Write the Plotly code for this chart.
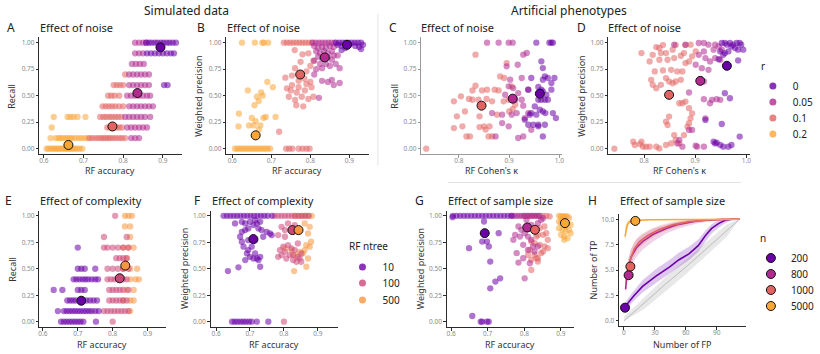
import plotly.graph_objects as go

W, H = 820, 354
FONT = "Noto Sans"

# ---------------------------------------------------------------- palette
R_LEVELS = ["0", "0.05", "0.1", "0.2"]
R_COLORS = {"0": "#6A00A8", "0.05": "#B12A90", "0.1": "#E16462", "0.2": "#FCA636"}
NTREE_LEVELS = ["10", "100", "500"]
NTREE_COLORS = {"10": "#6A00A8", "100": "#CC4778", "500": "#F89540"}
N_LEVELS = ["200", "800", "1000", "5000"]
N_COLORS = {"200": "#6A00A8", "800": "#B12A90", "1000": "#E16462", "5000": "#FCA636"}

# ---------------------------------------------------------------- A: recall vs RF accuracy (noise r)
# rows of (recall, [RF accuracy, ...])
A_R02 = [
    (0.0, [0.607, 0.612, 0.618, 0.623, 0.628, 0.633, 0.638, 0.643, 0.648, 0.653, 0.658,
           0.663, 0.668, 0.673, 0.678, 0.684, 0.690, 0.697]),
    (0.1, [0.617, 0.630, 0.637, 0.642, 0.648, 0.655, 0.660, 0.667, 0.672, 0.680, 0.688,
           0.695, 0.703, 0.710]),
    (0.2, [0.620]),
    (0.3, [0.625, 0.660, 0.667, 0.675, 0.685, 0.705]),
]
A_R01 = [
    (0.1, [0.715, 0.722, 0.730, 0.737, 0.744, 0.750, 0.756, 0.762, 0.768, 0.775, 0.782,
           0.790, 0.797, 0.805]),
    (0.2, [0.760, 0.767, 0.775, 0.783, 0.790, 0.797]),
    (0.3, [0.742, 0.750, 0.757, 0.765, 0.772, 0.780, 0.787, 0.795]),
    (0.4, [0.748, 0.756, 0.764, 0.772, 0.780, 0.790, 0.800]),
    (0.5, [0.762, 0.770, 0.778, 0.790]),
    (0.6, [0.776, 0.784, 0.792, 0.800]),
    (0.7, [0.805]),
]
A_R005 = [
    (0.1, [0.820, 0.830, 0.840]),
    (0.2, [0.810, 0.820, 0.830, 0.840, 0.850, 0.860]),
    (0.3, [0.805, 0.815, 0.825, 0.835, 0.845, 0.855, 0.868]),
    (0.4, [0.815, 0.825, 0.835, 0.845, 0.855, 0.865, 0.875]),
    (0.5, [0.810, 0.820, 0.830, 0.840, 0.850, 0.860, 0.868]),
    (0.6, [0.815, 0.825, 0.835, 0.845, 0.855, 0.865]),
    (0.7, [0.815, 0.825, 0.835, 0.845, 0.855, 0.865]),
    (0.8, [0.822, 0.832, 0.842, 0.852]),
    (0.9, [0.830, 0.840, 0.850]),
    (1.0, [0.830, 0.840, 0.850, 0.858]),
]
A_R0 = [
    (0.6, [0.903, 0.912]),
    (0.9, [0.860, 0.870, 0.880, 0.890, 0.900, 0.910, 0.920, 0.928]),
    (1.0, [0.858, 0.865, 0.872, 0.880, 0.887, 0.895, 0.902, 0.910, 0.917, 0.925, 0.933]),
]
A_MEANS = {"0": (0.894, 0.956), "0.05": (0.836, 0.525), "0.1": (0.773, 0.21), "0.2": (0.662, 0.035)}

# ---------------------------------------------------------------- B: weighted precision vs RF accuracy
B_R02_ROWS = [
    (0.0, [0.607, 0.613, 0.619, 0.625, 0.631, 0.637, 0.643, 0.649, 0.655, 0.661, 0.667,
           0.673, 0.679, 0.685, 0.691, 0.697]),
    (1.0, [0.625, 0.658, 0.677, 0.681, 0.692]),
]
B_R02_PTS = [(0.617, 0.33), (0.616, 0.21), (0.640, 0.55), (0.643, 0.22), (0.650, 0.29),
             (0.655, 0.22), (0.657, 0.41), (0.663, 0.49), (0.668, 0.45), (0.674, 0.53),
             (0.678, 0.50), (0.680, 0.29), (0.672, 0.22), (0.686, 0.30), (0.690, 0.63),
             (0.704, 0.58), (0.711, 0.30), (0.660, 0.26), (0.668, 0.18)]
B_R01_ROWS = [
    (1.0, [0.732, 0.740, 0.748, 0.756, 0.764, 0.772, 0.780, 0.788, 0.796, 0.804]),
    (0.0, [0.738, 0.746, 0.754, 0.770, 0.780, 0.790, 0.798]),
]
B_R01_PTS = [(0.760, 0.93), (0.780, 0.89), (0.795, 0.90), (0.808, 0.83), (0.761, 0.76),
             (0.736, 0.67), (0.753, 0.69), (0.790, 0.73), (0.740, 0.57), (0.753, 0.60),
             (0.770, 0.58), (0.786, 0.55), (0.803, 0.58), (0.745, 0.49), (0.761, 0.46),
             (0.778, 0.49), (0.795, 0.47), (0.808, 0.49), (0.764, 0.41), (0.782, 0.40),
             (0.720, 0.16), (0.770, 0.64), (0.785, 0.66), (0.800, 0.63), (0.765, 0.53),
             (0.750, 0.55), (0.790, 0.61), (0.775, 0.82), (0.800, 0.78)]
B_R005_ROWS = [(1.0, [0.806, 0.814, 0.822, 0.830, 0.838, 0.846, 0.854, 0.862])]
B_R005_PTS = [(0.810, 0.97), (0.820, 0.95), (0.830, 0.96), (0.840, 0.95), (0.850, 0.97),
              (0.860, 0.96), (0.815, 0.92), (0.825, 0.90), (0.835, 0.92), (0.845, 0.90),
              (0.855, 0.92), (0.820, 0.87), (0.830, 0.85), (0.845, 0.86), (0.855, 0.84),
              (0.810, 0.83), (0.825, 0.80), (0.840, 0.80), (0.850, 0.78), (0.865, 0.80),
              (0.830, 0.76), (0.875, 0.76), (0.815, 0.75), (0.830, 0.64), (0.845, 0.63),
              (0.860, 0.60), (0.855, 0.65), (0.875, 0.62), (0.822, 0.48), (0.810, 0.70),
              (0.870, 0.88), (0.860, 0.88)]
B_R0_ROWS = [(1.0, [0.866, 0.874, 0.882, 0.890, 0.898, 0.906, 0.914, 0.922, 0.930])]
B_R0_PTS = [(0.870, 0.98), (0.880, 0.97), (0.900, 0.98), (0.915, 0.97), (0.925, 0.96),
            (0.935, 0.98), (0.890, 0.95), (0.880, 0.93), (0.930, 0.94)]
B_MEANS = {"0": (0.894, 0.98), "0.05": (0.837, 0.861), "0.1": (0.774, 0.70), "0.2": (0.660, 0.126)}

# ---------------------------------------------------------------- C: recall vs Cohen's kappa (artificial phenotypes)
C_R01 = [(0.735, 0.0), (0.790, 0.447), (0.790, 0.195), (0.796, 0.305), (0.807, 0.211),
         (0.804, 0.494), (0.812, 0.352), (0.815, 0.116), (0.822, 0.116), (0.827, 0.462),
         (0.827, 0.550), (0.833, 0.594), (0.833, 0.887), (0.839, 0.462), (0.841, 0.305),
         (0.841, 0.204), (0.846, 0.550), (0.850, 0.211), (0.855, 0.469), (0.856, 0.557),
         (0.861, 0.211), (0.866, 0.447), (0.866, 0.116), (0.876, 0.321), (0.879, 0.550),
         (0.882, 0.682), (0.889, 0.447), (0.890, 0.667), (0.895, 0.808), (0.899, 0.462),
         (0.900, 0.352), (0.905, 0.588), (0.907, 0.374), (0.912, 0.415), (0.859, 0.116),
         (0.853, 0.180), (0.820, 0.470), (0.871, 0.557)]
C_R005 = [(0.856, 1.0), (0.879, 1.0), (0.899, 1.0), (0.907, 1.0), (0.935, 0.903),
          (0.928, 0.887), (0.917, 0.792), (0.895, 0.777), (0.902, 0.651), (0.899, 0.588),
          (0.908, 0.572), (0.918, 0.525), (0.892, 0.509), (0.925, 0.462), (0.928, 0.406),
          (0.915, 0.336), (0.905, 0.321), (0.886, 0.321), (0.899, 0.211), (0.873, 0.116),
          (0.918, 0.101), (0.928, 0.116), (0.931, 0.289), (0.938, 0.336), (0.886, 0.242),
          (0.944, 0.179), (0.866, 0.336), (0.925, 0.667), (0.938, 0.557), (0.912, 0.462)]
C_R0 = [(0.954, 1.0), (0.980, 1.0), (0.984, 1.0), (0.987, 1.0), (0.964, 0.824),
        (0.967, 0.761), (0.971, 0.682), (0.967, 0.651), (0.977, 0.667), (0.984, 0.619),
        (0.990, 0.667), (0.944, 0.667), (0.958, 0.582), (0.964, 0.557), (0.967, 0.541),
        (0.974, 0.509), (0.977, 0.462), (0.964, 0.462), (0.971, 0.462), (0.958, 0.462),
        (0.951, 0.399), (0.961, 0.368), (0.967, 0.352), (0.972, 0.336), (0.944, 0.336),
        (0.954, 0.321), (0.941, 0.321), (0.931, 0.274), (0.938, 0.226), (0.948, 0.226),
        (0.958, 0.226), (0.971, 0.226), (0.993, 0.289), (0.958, 0.211), (0.987, 0.336),
        (0.984, 0.557), (0.938, 0.557), (0.967, 0.116)]
C_MEANS = {"0": (0.961, 0.519), "0.05": (0.907, 0.472), "0.1": (0.845, 0.406)}

# ---------------------------------------------------------------- D: weighted precision vs Cohen's kappa
D_R01 = [(0.742, 0.0), (0.779, 0.066), (0.782, 0.035), (0.792, 0.044), (0.798, 0.019),
         (0.804, 0.019), (0.795, 0.066), (0.811, 0.019), (0.824, 0.019), (0.830, 0.003),
         (0.843, 0.035), (0.853, 0.050), (0.862, 0.082), (0.869, 0.050), (0.859, 0.129),
         (0.878, 0.129), (0.885, 0.208), (0.888, 0.240), (0.891, 0.287), (0.894, 0.334),
         (0.888, 0.382), (0.875, 0.429), (0.881, 0.445), (0.869, 0.429), (0.849, 0.303),
         (0.846, 0.224), (0.843, 0.256), (0.817, 0.603), (0.814, 0.650), (0.824, 0.571),
         (0.833, 0.603), (0.849, 0.634), (0.843, 0.666), (0.856, 0.618), (0.862, 0.634),
         (0.872, 0.650), (0.875, 0.729), (0.865, 0.729), (0.853, 0.744), (0.837, 0.738),
         (0.821, 0.729), (0.830, 0.839), (0.846, 0.839), (0.859, 0.855), (0.872, 0.877),
         (0.878, 0.902), (0.881, 0.808), (0.888, 0.823), (0.894, 0.871), (0.901, 0.918),
         (0.891, 0.981), (0.856, 0.934), (0.843, 0.902), (0.830, 0.950), (0.833, 0.902),
         (0.817, 0.886), (0.811, 0.823), (0.795, 0.902), (0.824, 0.959), (0.837, 0.978),
         (0.862, 0.978), (0.881, 0.978)]
D_R005 = [(0.859, 0.981), (0.881, 0.981), (0.907, 0.997), (0.917, 0.997), (0.926, 0.981),
          (0.939, 0.981), (0.946, 0.965), (0.952, 0.934), (0.936, 0.934), (0.917, 0.918),
          (0.907, 0.886), (0.920, 0.855), (0.929, 0.823), (0.939, 0.855), (0.949, 0.839),
          (0.901, 0.792), (0.913, 0.760), (0.926, 0.744), (0.917, 0.634), (0.888, 0.530),
          (0.917, 0.467), (0.929, 0.429), (0.933, 0.461), (0.942, 0.467), (0.949, 0.461),
          (0.888, 0.177), (0.894, 0.177), (0.904, 0.019), (0.917, 0.019), (0.901, 0.028),
          (0.865, 0.050), (0.869, 0.082), (0.875, 0.019), (0.920, 0.287)]
D_R0 = [(0.952, 0.997), (0.958, 0.997), (0.962, 0.981), (0.968, 0.997), (0.974, 0.981),
        (0.981, 0.997), (0.987, 0.997), (0.990, 0.981), (0.971, 0.965), (0.978, 0.950),
        (0.984, 0.934), (0.994, 0.934), (0.949, 0.918), (0.958, 0.902), (0.965, 0.918),
        (0.955, 0.886), (0.946, 0.845), (0.984, 0.833), (0.958, 0.524), (0.968, 0.476),
        (0.920, 0.271), (0.952, 0.233), (0.987, 0.114), (0.939, 0.050), (0.949, 0.035),
        (0.955, 0.019), (0.965, 0.019), (0.971, 0.035), (0.942, 0.057), (0.936, 0.066)]
D_MEANS = {"0": (0.962, 0.782), "0.05": (0.910, 0.640), "0.1": (0.849, 0.508)}

# ---------------------------------------------------------------- E: recall vs RF accuracy (RF ntree)
E_T10 = [
    (0.0, [0.652, 0.660, 0.668, 0.676, 0.684, 0.692, 0.700, 0.708, 0.716, 0.752]),
    (0.1, [0.643, 0.660, 0.668, 0.676, 0.684, 0.692, 0.700, 0.708, 0.716, 0.724, 0.732,
           0.740, 0.750, 0.760]),
    (0.2, [0.670, 0.678, 0.686, 0.694, 0.715, 0.725, 0.735, 0.745, 0.755]),
    (0.3, [0.631, 0.656, 0.700, 0.710, 0.720]),
    (0.4, [0.688, 0.696, 0.705, 0.714, 0.722, 0.730, 0.740, 0.750, 0.758]),
    (0.5, [0.700, 0.710, 0.720, 0.750]),
    (0.7, [0.700]),
]
E_T100 = [
    (0.0, [0.800]),
    (0.1, [0.775, 0.785, 0.795, 0.805, 0.815, 0.825, 0.835, 0.845]),
    (0.2, [0.790, 0.800, 0.810, 0.820, 0.830, 0.840]),
    (0.3, [0.790, 0.800, 0.810, 0.820, 0.830, 0.845]),
    (0.4, [0.785, 0.795, 0.805, 0.815, 0.830, 0.840]),
    (0.5, [0.785, 0.800, 0.815, 0.830, 0.845]),
    (0.6, [0.810, 0.820, 0.830, 0.840]),
    (0.7, [0.775, 0.785, 0.800, 0.815, 0.830, 0.845]),
    (0.8, [0.775, 0.840]),
    (1.0, [0.807]),
]
E_T500 = [
    (0.1, [0.850]),
    (0.2, [0.830, 0.850, 0.860]),
    (0.3, [0.840, 0.860]),
    (0.4, [0.850, 0.865, 0.875]),
    (0.5, [0.830, 0.850, 0.870]),
    (0.6, [0.840]),
    (0.7, [0.830, 0.845, 0.860]),
    (0.8, [0.850]),
    (0.9, [0.835, 0.850]),
    (1.0, [0.835, 0.845, 0.855]),
]
E_MEANS = {"10": (0.710, 0.198), "100": (0.820, 0.41), "500": (0.836, 0.53)}

# ---------------------------------------------------------------- F: weighted precision vs RF accuracy (RF ntree)
F_T10_ROWS = [
    (1.0, [0.622, 0.632, 0.642, 0.652, 0.662, 0.672, 0.682, 0.692, 0.702, 0.712, 0.722,
           0.732, 0.742, 0.752, 0.765]),
    (0.0, [0.647, 0.655, 0.663, 0.672, 0.680, 0.688, 0.697, 0.705, 0.720, 0.754]),
]
F_T10_PTS = [(0.635, 0.478), (0.666, 0.513), (0.686, 0.582), (0.691, 0.645), (0.695, 0.676),
             (0.700, 0.613), (0.710, 0.597), (0.720, 0.597), (0.725, 0.582), (0.715, 0.645),
             (0.730, 0.613), (0.705, 0.708), (0.681, 0.708), (0.676, 0.755), (0.671, 0.802),
             (0.676, 0.849), (0.686, 0.865), (0.695, 0.881), (0.710, 0.912), (0.725, 0.881),
             (0.720, 0.928), (0.734, 0.865), (0.739, 0.802), (0.749, 0.849), (0.759, 0.833),
             (0.764, 0.818), (0.730, 0.519), (0.695, 0.770), (0.715, 0.770), (0.686, 0.928),
             (0.700, 0.943), (0.715, 0.959), (0.730, 0.943), (0.656, 0.928), (0.676, 0.943)]
F_T100_ROWS = [
    (1.0, [0.773, 0.783, 0.793, 0.803, 0.813, 0.823, 0.833, 0.843, 0.853, 0.863, 0.873]),
    (0.0, [0.800]),
]
F_T100_PTS = [(0.783, 0.818), (0.793, 0.896), (0.803, 0.865), (0.812, 0.928), (0.822, 0.865),
              (0.832, 0.912), (0.788, 0.676), (0.793, 0.629), (0.803, 0.660), (0.807, 0.597),
              (0.817, 0.629), (0.827, 0.629), (0.832, 0.676), (0.841, 0.613), (0.846, 0.597),
              (0.851, 0.645), (0.822, 0.692), (0.827, 0.582), (0.837, 0.566), (0.851, 0.566),
              (0.783, 0.613), (0.798, 0.708), (0.812, 0.723), (0.841, 0.739), (0.803, 0.802)]
F_T500_ROWS = [(1.0, [0.832, 0.842, 0.852, 0.862, 0.872, 0.882])]
F_T500_PTS = [(0.803, 0.692), (0.822, 0.676), (0.832, 0.629), (0.861, 0.676), (0.866, 0.723),
              (0.876, 0.708), (0.880, 0.755), (0.871, 0.833), (0.876, 0.896), (0.861, 0.928),
              (0.830, 0.478), (0.856, 0.645), (0.846, 0.660), (0.871, 0.597), (0.866, 0.519)]
F_MEANS = {"10": (0.710, 0.780), "100": (0.825, 0.865), "500": (0.843, 0.865)}

# ---------------------------------------------------------------- G: weighted precision vs RF accuracy (sample size n)
G_N200_ROWS = [(1.0, [0.605, 0.615, 0.625, 0.635, 0.645, 0.655, 0.665, 0.675, 0.685, 0.695,
                      0.705, 0.715, 0.725, 0.735, 0.745, 0.755, 0.765])]
G_N200_PTS = [(0.604, 0.987), (0.690, 0.946), (0.730, 0.836), (0.685, 0.757), (0.698, 0.757),
              (0.703, 0.710), (0.649, 0.694), (0.707, 0.568), (0.734, 0.410), (0.721, 0.379),
              (0.707, 0.315), (0.658, 0.054), (0.681, 0.0), (0.685, 0.0), (0.698, 0.0),
              (0.703, 0.0)]
G_N800_ROWS = [(1.0, [0.765, 0.772, 0.779, 0.786, 0.793, 0.800, 0.807, 0.814, 0.821, 0.828,
                      0.835, 0.842])]
G_N800_PTS = [(0.784, 0.899), (0.792, 0.868), (0.801, 0.836), (0.810, 0.804), (0.819, 0.773),
              (0.828, 0.868), (0.837, 0.931), (0.846, 0.962), (0.797, 0.726), (0.810, 0.678),
              (0.824, 0.710), (0.837, 0.710), (0.770, 0.773), (0.779, 0.647), (0.797, 0.599),
              (0.815, 0.552), (0.801, 0.410), (0.784, 0.558), (0.828, 0.662), (0.851, 0.978),
              (0.806, 0.962), (0.819, 0.915), (0.788, 0.804), (0.775, 0.820)]
G_N1000_ROWS = [(1.0, [0.800, 0.810, 0.820, 0.830, 0.840, 0.850, 0.860])]
G_N1000_PTS = [(0.815, 0.678), (0.828, 0.631), (0.837, 0.599), (0.846, 0.647), (0.855, 0.710),
               (0.864, 0.773), (0.851, 0.820), (0.837, 0.820), (0.819, 0.757), (0.828, 0.741),
               (0.842, 0.726), (0.860, 0.836), (0.855, 0.899), (0.842, 0.883), (0.833, 0.804),
               (0.810, 0.631), (0.819, 0.584), (0.837, 0.568), (0.819, 0.489), (0.833, 0.599),
               (0.851, 0.662), (0.864, 0.694), (0.869, 0.994)]
G_N5000_PTS = [(0.895, 1.0), (0.900, 0.994), (0.904, 0.994), (0.909, 0.994), (0.913, 0.994),
               (0.918, 0.994), (0.922, 0.978), (0.895, 0.946), (0.900, 0.931), (0.909, 0.915),
               (0.918, 0.931), (0.927, 0.915), (0.895, 0.883), (0.904, 0.868), (0.913, 0.852),
               (0.922, 0.868), (0.927, 0.836), (0.900, 0.820), (0.909, 0.804), (0.918, 0.789),
               (0.909, 0.773), (0.913, 0.899), (0.904, 0.962)]
G_MEANS = {"200": (0.692, 0.836), "800": (0.808, 0.890), "1000": (0.829, 0.868), "5000": (0.911, 0.931)}

# ---------------------------------------------------------------- H: TP vs FP curves (mean with band)
H_N200_FP = [1, 9, 18, 31, 44, 53, 63, 72, 79, 85, 92, 98, 104, 112]
H_N200_TP = [1.4, 2.4, 3.4, 4.4, 5.3, 6.0, 6.6, 7.4, 8.4, 9.1, 9.6, 9.9, 10.0, 10.0]
H_N200_LO = [1.0, 1.9, 2.8, 3.7, 4.6, 5.3, 6.0, 6.8, 7.8, 8.6, 9.2, 9.6, 9.9, 10.0]
H_N200_HI = [1.8, 2.9, 4.0, 5.1, 6.0, 6.7, 7.3, 8.0, 8.9, 9.5, 9.9, 10.0, 10.0, 10.0]

H_N800_FP = [1.6, 2.5, 4, 7, 12, 18, 28, 41, 53, 72, 95, 112]
H_N800_TP = [3.1, 4.3, 5.2, 6.3, 7.2, 7.8, 8.5, 9.1, 9.5, 9.85, 10.0, 10.0]
H_N800_LO = [2.5, 3.5, 4.3, 5.4, 6.3, 7.0, 7.8, 8.6, 9.1, 9.6, 9.95, 10.0]
H_N800_HI = [3.8, 5.0, 6.0, 7.1, 8.0, 8.5, 9.1, 9.5, 9.8, 10.0, 10.0, 10.0]

H_N1000_FP = [2.5, 4, 6, 10, 15, 23, 34, 47, 63, 82, 112]
H_N1000_TP = [4.0, 5.2, 6.0, 7.1, 7.8, 8.4, 9.0, 9.45, 9.77, 9.93, 10.0]
H_N1000_LO = [3.3, 4.4, 5.2, 6.4, 7.2, 7.9, 8.6, 9.1, 9.55, 9.85, 10.0]
H_N1000_HI = [4.8, 6.0, 6.8, 7.8, 8.4, 8.9, 9.4, 9.75, 9.95, 10.0, 10.0]

H_N5000_FP = [1, 2, 3.2, 5, 9, 25, 60, 112]
H_N5000_TP = [8.3, 9.0, 9.45, 9.75, 9.88, 9.95, 9.98, 10.0]
H_N5000_LO = [7.6, 8.5, 9.1, 9.5, 9.75, 9.9, 9.95, 10.0]
H_N5000_HI = [9.2, 9.6, 9.8, 9.95, 10.0, 10.0, 10.0, 10.0]

H_RAND_FP = [0, 20, 40, 60, 80, 100, 112]
H_RAND_TP = [0.0, 1.8, 3.6, 5.3, 7.1, 8.9, 10.0]
H_RAND_LO = [0.0, 1.2, 2.9, 4.6, 6.4, 8.3, 10.0]
H_RAND_HI = [0.4, 2.4, 4.3, 6.0, 7.8, 9.5, 10.0]
H_MEANS = {"200": (1.0, 1.3), "800": (4.5, 4.5), "1000": (6.2, 5.35), "5000": (11.0, 9.84)}

# ---------------------------------------------------------------- axis ticks
ACC_TICKS = [0.6, 0.7, 0.8, 0.9]
KAPPA_TICKS = [0.8, 0.9, 1.0]
FRAC_TICKS = [0.0, 0.25, 0.5, 0.75, 1.0]
FP_TICKS = [0, 30, 60, 90]
TP_TICKS = [0.0, 2.5, 5.0, 7.5, 10.0]


def expand_rows(rows):
    xs, ys = [], []
    for yv, row in rows:
        xs.extend(row)
        ys.extend([yv] * len(row))
    return xs, ys


def unzip(points):
    return [p[0] for p in points], [p[1] for p in points]


def combine(rows, points):
    x1, y1 = expand_rows(rows)
    x2, y2 = unzip(points)
    return x1 + x2, y1 + y2


fig = go.Figure()


def ax_ids(i):
    s = "" if i == 1 else str(i)
    return "x" + s, "y" + s, s


def add_cloud(i, x, y, color):
    xa, ya, _ = ax_ids(i)
    fig.add_trace(go.Scatter(x=x, y=y, mode="markers", xaxis=xa, yaxis=ya,
                             marker=dict(size=6.3, color=color, opacity=0.55, line=dict(width=0)),
                             showlegend=False, hoverinfo="skip"))


def add_mean(i, xy, color):
    xa, ya, _ = ax_ids(i)
    fig.add_trace(go.Scatter(x=[xy[0]], y=[xy[1]], mode="markers", xaxis=xa, yaxis=ya,
                             marker=dict(size=9, color=color, line=dict(width=1, color="#111")),
                             showlegend=False, hoverinfo="skip"))


def set_axes(i, xdom, ydom, xrange, yrange, xticks, xtext, yticks, ytext, line="#2b2b2b"):
    xa, ya, s = ax_ids(i)
    common = dict(showline=True, linecolor=line, linewidth=1, ticks="outside", ticklen=2.5,
                  tickwidth=1, tickcolor=line, showgrid=False, zeroline=False,
                  tickfont=dict(size=6.5, color="#8a8a8a", family=FONT), fixedrange=True)
    fig.update_layout(**{
        "xaxis" + s: dict(domain=[xdom[0] / W, xdom[1] / W], range=xrange, anchor=ya,
                          tickvals=xticks, ticktext=xtext, ticklabelstandoff=-2, **common),
        "yaxis" + s: dict(domain=[1 - ydom[1] / H, 1 - ydom[0] / H], range=yrange, anchor=xa,
                          tickvals=yticks, ticktext=ytext, **common),
    })


acc_txt = [f"{v:.1f}" for v in ACC_TICKS]
kap_txt = [f"{v:.1f}" for v in KAPPA_TICKS]
frac_txt = [f"{v:.2f}" for v in FRAC_TICKS]
TOP = (37.4, 154)
BOT = (210.5, 327)

set_axes(1, (40, 185), TOP, [0.5888, 0.9484], [-0.05, 1.05], ACC_TICKS, acc_txt, FRAC_TICKS, frac_txt)
set_axes(2, (230, 375), TOP, [0.5849, 0.9504], [-0.05, 1.05], ACC_TICKS, acc_txt, FRAC_TICKS, frac_txt)
set_axes(3, (428, 571), TOP, [0.725, 1.005], [-0.05, 1.05], KAPPA_TICKS, kap_txt, FRAC_TICKS, frac_txt,
         line="#9a9a9a")
set_axes(4, (618, 762), TOP, [0.730, 1.007], [-0.05, 1.05], KAPPA_TICKS, kap_txt, FRAC_TICKS, frac_txt)
set_axes(5, (40, 169), BOT, [0.590, 0.9535], [-0.05, 1.05], ACC_TICKS, acc_txt, FRAC_TICKS, frac_txt)
set_axes(6, (214, 343), BOT, [0.584, 0.958], [-0.05, 1.05], ACC_TICKS, acc_txt, FRAC_TICKS, frac_txt)
set_axes(7, (454, 583), BOT, [0.5884, 0.935], [-0.05, 1.05], ACC_TICKS, acc_txt, FRAC_TICKS, frac_txt)
set_axes(8, (629, 758), (214.2, 326), [-4.8, 118.3], [-0.5, 10.5], FP_TICKS,
         [str(v) for v in FP_TICKS], TP_TICKS, [f"{v:.1f}" for v in TP_TICKS])

# ---- A
for rows, lev in [(A_R02, "0.2"), (A_R01, "0.1"), (A_R005, "0.05"), (A_R0, "0")]:
    add_cloud(1, *expand_rows(rows), R_COLORS[lev])
for lev in R_LEVELS:
    add_mean(1, A_MEANS[lev], R_COLORS[lev])

# ---- B
for rows, pts, lev in [(B_R02_ROWS, B_R02_PTS, "0.2"), (B_R01_ROWS, B_R01_PTS, "0.1"),
                       (B_R005_ROWS, B_R005_PTS, "0.05"), (B_R0_ROWS, B_R0_PTS, "0")]:
    add_cloud(2, *combine(rows, pts), R_COLORS[lev])
for lev in R_LEVELS:
    add_mean(2, B_MEANS[lev], R_COLORS[lev])

# ---- C, D
for pts, lev in [(C_R01, "0.1"), (C_R005, "0.05"), (C_R0, "0")]:
    add_cloud(3, *unzip(pts), R_COLORS[lev])
for lev in ["0", "0.05", "0.1"]:
    add_mean(3, C_MEANS[lev], R_COLORS[lev])
for pts, lev in [(D_R01, "0.1"), (D_R005, "0.05"), (D_R0, "0")]:
    add_cloud(4, *unzip(pts), R_COLORS[lev])
for lev in ["0", "0.05", "0.1"]:
    add_mean(4, D_MEANS[lev], R_COLORS[lev])

# ---- E, F
for rows, lev in [(E_T500, "500"), (E_T100, "100"), (E_T10, "10")]:
    add_cloud(5, *expand_rows(rows), NTREE_COLORS[lev])
for lev in NTREE_LEVELS:
    add_mean(5, E_MEANS[lev], NTREE_COLORS[lev])
for rows, pts, lev in [(F_T500_ROWS, F_T500_PTS, "500"), (F_T100_ROWS, F_T100_PTS, "100"),
                       (F_T10_ROWS, F_T10_PTS, "10")]:
    add_cloud(6, *combine(rows, pts), NTREE_COLORS[lev])
for lev in NTREE_LEVELS:
    add_mean(6, F_MEANS[lev], NTREE_COLORS[lev])

# ---- G
add_cloud(7, *unzip(G_N5000_PTS), N_COLORS["5000"])
for rows, pts, lev in [(G_N1000_ROWS, G_N1000_PTS, "1000"), (G_N800_ROWS, G_N800_PTS, "800"),
                       (G_N200_ROWS, G_N200_PTS, "200")]:
    add_cloud(7, *combine(rows, pts), N_COLORS[lev])
for lev in N_LEVELS:
    add_mean(7, G_MEANS[lev], N_COLORS[lev])


# ---- H
def band(fp, lo, hi, fill):
    fig.add_trace(go.Scatter(x=fp + fp[::-1], y=hi + lo[::-1], mode="lines", fill="toself",
                             fillcolor=fill, line=dict(width=0), xaxis="x8", yaxis="y8",
                             showlegend=False, hoverinfo="skip"))


def curve(fp, tp, color, width=1.6):
    fig.add_trace(go.Scatter(x=fp, y=tp, mode="lines", line=dict(color=color, width=width),
                             xaxis="x8", yaxis="y8", showlegend=False, hoverinfo="skip"))


band(H_RAND_FP, H_RAND_LO, H_RAND_HI, "rgba(190,190,190,0.35)")
curve(H_RAND_FP, H_RAND_TP, "#b0b0b0", 0.8)
band(H_N200_FP, H_N200_LO, H_N200_HI, "rgba(106,0,168,0.22)")
band(H_N800_FP, H_N800_LO, H_N800_HI, "rgba(177,42,144,0.2)")
band(H_N1000_FP, H_N1000_LO, H_N1000_HI, "rgba(225,100,98,0.22)")
band(H_N5000_FP, H_N5000_LO, H_N5000_HI, "rgba(252,166,54,0.3)")
curve(H_N200_FP, H_N200_TP, N_COLORS["200"])
curve(H_N800_FP, H_N800_TP, N_COLORS["800"])
curve(H_N1000_FP, H_N1000_TP, N_COLORS["1000"])
curve(H_N5000_FP, H_N5000_TP, N_COLORS["5000"])
for lev in N_LEVELS:
    add_mean(8, H_MEANS[lev], N_COLORS[lev])

# ---- legends: one single-entry legend per key so rows can sit closer than plotly's default
legend_layout = {}
legend_count = [0]


def legend_entry(name, color, x, y, size=7, outline=False):
    legend_count[0] += 1
    k = legend_count[0]
    lid = "legend" if k == 1 else f"legend{k}"
    marker = dict(size=size, color=color)
    if outline:
        marker["line"] = dict(width=1, color="#111")
    else:
        marker["opacity"] = 0.8
    fig.add_trace(go.Scatter(x=[None], y=[None], mode="markers", name=name, legend=lid,
                             marker=marker, hoverinfo="skip"))
    legend_layout[lid] = dict(x=x / W, y=1 - y / H, xanchor="left", yanchor="middle",
                              font=dict(size=10, color="#222", family=FONT),
                              bgcolor="rgba(0,0,0,0)", borderwidth=0,
                              itemclick=False, itemdoubleclick=False)


for lev, yy in zip(R_LEVELS, [86, 102, 118, 134]):
    legend_entry(lev, R_COLORS[lev], 765, yy)
for lev, yy in zip(NTREE_LEVELS, [267, 283, 300]):
    legend_entry(lev, NTREE_COLORS[lev], 348, yy)
for lev, yy in zip(N_LEVELS, [258, 274, 290, 306]):
    legend_entry(lev, N_COLORS[lev], 763, yy, size=9, outline=True)


# ---- text
def label(text, x, y, size, color="#222", xanchor="left", angle=0):
    fig.add_annotation(text=text, x=x / W, y=1 - y / H, xref="paper", yref="paper",
                       showarrow=False, xanchor=xanchor, yanchor="middle", textangle=angle,
                       font=dict(size=size, color=color, family=FONT))


label("Simulated data", 190, 11, 12, xanchor="center")
label("Artificial phenotypes", 578, 11, 12, xanchor="center")
for letter, lx, ly in [("A", 5, 27), ("B", 198, 27), ("C", 393, 27), ("D", 584, 27),
                       ("E", 3, 200), ("F", 195, 200), ("G", 420, 200), ("H", 595, 200)]:
    label(letter, lx, ly, 12)
for title, tx, ty in [("Effect of noise", 39, 27), ("Effect of noise", 229, 27),
                      ("Effect of noise", 426, 27), ("Effect of noise", 616, 27),
                      ("Effect of complexity", 39, 200), ("Effect of complexity", 213, 200),
                      ("Effect of sample size", 453, 200), ("Effect of sample size", 628, 200)]:
    label(title, tx, ty, 11)
for text, cx, cy in [("RF accuracy", 112, 170.5), ("RF accuracy", 302, 170.5),
                     ("RF Cohen's κ", 499, 170.5), ("RF Cohen's κ", 690, 170.5),
                     ("RF accuracy", 104, 344), ("RF accuracy", 278, 344),
                     ("RF accuracy", 518, 344), ("Number of FP", 693, 344)]:
    label(text, cx, cy, 9, color="#333", xanchor="center")
for text, cx, cy in [("Recall", 12, 96), ("Weighted precision", 202, 96), ("Recall", 401, 96),
                     ("Weighted precision", 591, 96), ("Recall", 12, 269),
                     ("Weighted precision", 187, 269), ("Weighted precision", 427, 269),
                     ("Number of TP", 603, 270)]:
    label(text, cx, cy, 9, color="#333", xanchor="center", angle=-90)
# legend headings
label("r", 771, 66, 10)
label("RF ntree", 353, 246, 10)
label("n", 770, 238, 10)

# ---- panel separators
fig.add_shape(type="line", xref="paper", yref="paper", x0=384 / W, x1=384 / W,
              y0=1 - 14 / H, y1=1 - 165 / H, line=dict(color="#e3e3e3", width=1))
fig.add_shape(type="line", xref="paper", yref="paper", x0=455 / W, x1=753 / W,
              y0=1 - 182.5 / H, y1=1 - 182.5 / H, line=dict(color="#e3e3e3", width=1))

fig.update_layout(
    width=W, height=H, margin=dict(l=0, r=0, t=0, b=0),
    paper_bgcolor="white", plot_bgcolor="white",
    font=dict(family=FONT, color="#222"),
    **legend_layout,
)

fig.write_html("out.html")
